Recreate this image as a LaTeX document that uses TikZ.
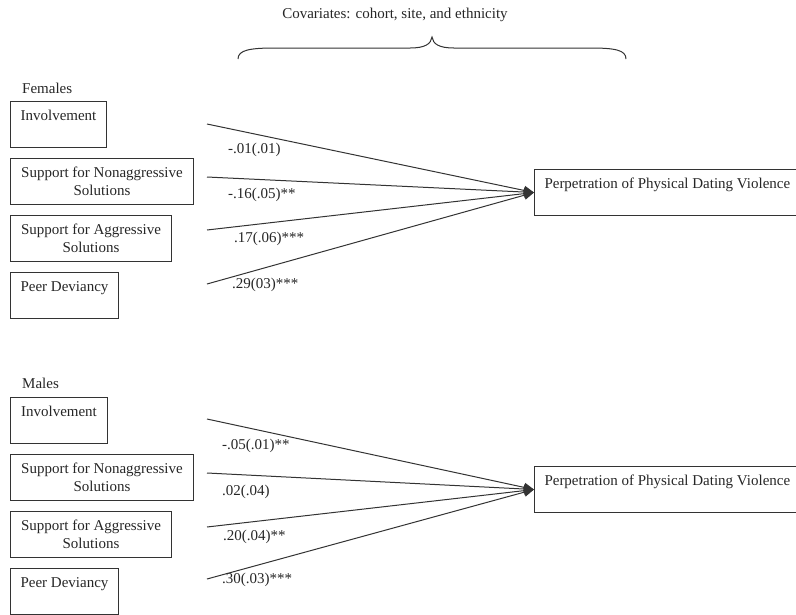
\documentclass[tikz,border=0pt]{standalone}
\usepackage{fontspec}
\setmainfont{Liberation Serif}
\usetikzlibrary{arrows.meta}
\begin{document}
\begin{tikzpicture}[x=1pt,y=-1pt,
  font=\fontsize{15}{18}\selectfont,
  every node/.style={text=black!85},
  varbox/.style={draw=black!80, line width=1pt, anchor=north west, inner xsep=0pt, inner ysep=0pt, minimum height=46pt},
  outbox/.style={draw=black!80, line width=1pt, anchor=north west, inner xsep=10pt, inner ysep=0pt, minimum height=46pt, minimum width=261pt, align=left},
  path/.style={draw=black!80, line width=1pt, -{Triangle[length=10pt,width=9pt]}},
  coef/.style={anchor=west, inner sep=0pt},
  grp/.style={anchor=west, inner sep=0pt}
]
\useasboundingbox (0,0) rectangle (796,614);

% covariates brace
\node[inner sep=0pt] (cov) at (395,15) {Covariates: cohort, site, and ethnicity};
\draw[black!80, line width=1pt] (238,59) .. controls (238,50) and (250,48) .. (275,48) -- (410,48)
  .. controls (425,48) and (431,44) .. (432,37)
  .. controls (433,44) and (439,48) .. (454,48) -- (590,48)
  .. controls (615,48) and (626,50) .. (626,59);

% ---------------- Females ----------------
\node[grp] (fem) at (22,88) {Females};
\node[varbox, minimum width=96pt, align=left] (fInv) at (10,101) {Involvement\\\mbox{}};
\node[varbox, minimum width=183pt, align=center] (fNon) at (10,158) {Support for Nonaggressive\\Solutions};
\node[varbox, minimum width=161pt, align=center] (fAgg) at (10,215) {Support for Aggressive\\Solutions};
\node[varbox, minimum width=108pt, align=left] (fPeer) at (10,272) {Peer Deviancy\\\mbox{}};
\node[outbox] (fOut) at (534,169) {Perpetration of Physical Dating Violence\\\mbox{}};

\coordinate (fs1) at (207,124);
\coordinate (fs2) at (207,177);
\coordinate (fs3) at (207,230);
\coordinate (fs4) at (207,284);
\draw[path] (fs1) -- (fOut.west);
\draw[path] (fs2) -- (fOut.west);
\draw[path] (fs3) -- (fOut.west);
\draw[path] (fs4) -- (fOut.west);

\node[coef] (fc1) at (228,150) {-.01(.01)};
\node[coef] (fc2) at (228,195) {-.16(.05)**};
\node[coef] (fc3) at (234,239) {.17(.06)***};
\node[coef] (fc4) at (232,285) {.29(03)***};

% ---------------- Males ----------------
\node[grp] (mal) at (22,383) {Males};
\node[varbox, minimum width=97pt, align=left] (mInv) at (10,397) {Involvement\\\mbox{}};
\node[varbox, minimum width=183pt, align=center] (mNon) at (10,454) {Support for Nonaggressive\\Solutions};
\node[varbox, minimum width=161pt, align=center] (mAgg) at (10,511) {Support for Aggressive\\Solutions};
\node[varbox, minimum width=108pt, align=left] (mPeer) at (10,568) {Peer Deviancy\\\mbox{}};
\node[outbox] (mOut) at (534,466) {Perpetration of Physical Dating Violence\\\mbox{}};

\coordinate (ms1) at (207,419);
\coordinate (ms2) at (207,473);
\coordinate (ms3) at (207,527);
\coordinate (ms4) at (207,579);
\draw[path] (ms1) -- (mOut.west);
\draw[path] (ms2) -- (mOut.west);
\draw[path] (ms3) -- (mOut.west);
\draw[path] (ms4) -- (mOut.west);

\node[coef] (mc1) at (222,446) {-.05(.01)**};
\node[coef] (mc2) at (222,492) {.02(.04)};
\node[coef] (mc3) at (223,537) {.20(.04)**};
\node[coef] (mc4) at (222,580) {.30(.03)***};
\end{tikzpicture}
\end{document}
